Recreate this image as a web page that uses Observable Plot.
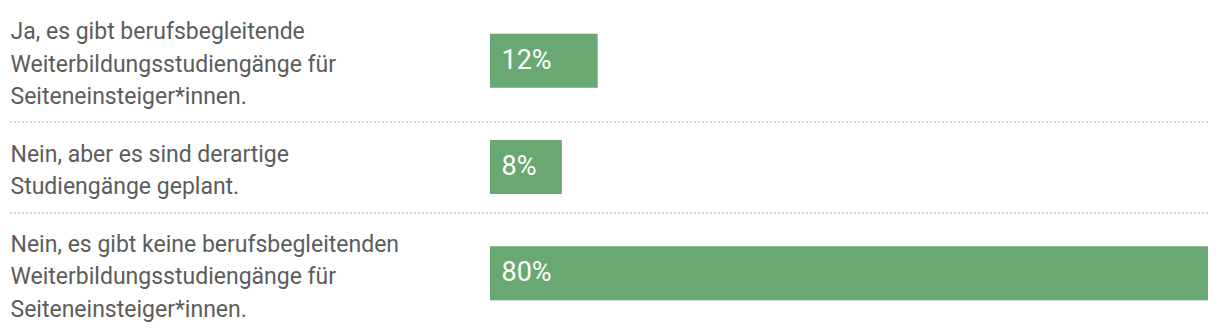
<!DOCTYPE html>
<html>
<head>
<meta charset="utf-8">
<script src="https://cdn.jsdelivr.net/npm/d3@7"></script>
<script src="https://cdn.jsdelivr.net/npm/@observablehq/plot@0.6"></script>
<style>
  html, body { margin: 0; padding: 0; background: #fff; }
  #chart svg { display: block; }
</style>
</head>
<body>
<div id="chart"></div>
<script>
// Data
const categories = [
  "Ja, es gibt berufsbegleitende\nWeiterbildungsstudiengänge für\nSeiteneinsteiger*innen.",
  "Nein, aber es sind derartige\nStudiengänge geplant.",
  "Nein, es gibt keine berufsbegleitenden\nWeiterbildungsstudiengänge für\nSeiteneinsteiger*innen."
];
const values = [12, 8, 80];
const valueLabels = ["12%", "8%", "80%"];

// Layout of rows derived from number of text lines (+1 padding unit)
let acc = 0;
const rows = categories.map((c, i) => {
  const units = c.split("\n").length + 1;
  const start = acc;
  acc += units;
  return {label: c, value: values[i], valueLabel: valueLabels[i], start, end: acc, mid: (start + acc) / 2};
});
const totalUnits = acc;
const halfBar = 0.89;

const font = "Roboto, 'Open Sans', sans-serif";

const chart = Plot.plot({
  width: 1220,
  height: 334,
  marginLeft: 10,
  marginRight: 12,
  marginTop: 0,
  marginBottom: 0,
  style: {fontFamily: font, background: "#fff"},
  x: {domain: [0, d3.max(values)], range: [490, 1208], axis: null},
  y: {domain: [0, totalUnits], range: [0, 334], axis: null},
  marks: [
    Plot.ruleY(rows.slice(0, -1), {y: "end", stroke: "#d6d6d6", strokeWidth: 2, strokeDasharray: "2,2"}),
    Plot.rectX(rows, {x1: 0, x2: "value", y1: d => d.mid - halfBar, y2: d => d.mid + halfBar, fill: "#6aa873"}),
    Plot.text(rows, {x: () => 0, y: "mid", text: "valueLabel", textAnchor: "start", dx: 11, dy: -1, fill: "#fff", fontSize: 27}),
    Plot.text(rows, {y: "mid", text: "label", frameAnchor: "left", textAnchor: "start", lineAnchor: "middle", lineHeight: 1.41, fill: "#5c5c5c", fontSize: 23})
  ]
});
document.getElementById("chart").appendChild(chart);
</script>
</body>
</html>
